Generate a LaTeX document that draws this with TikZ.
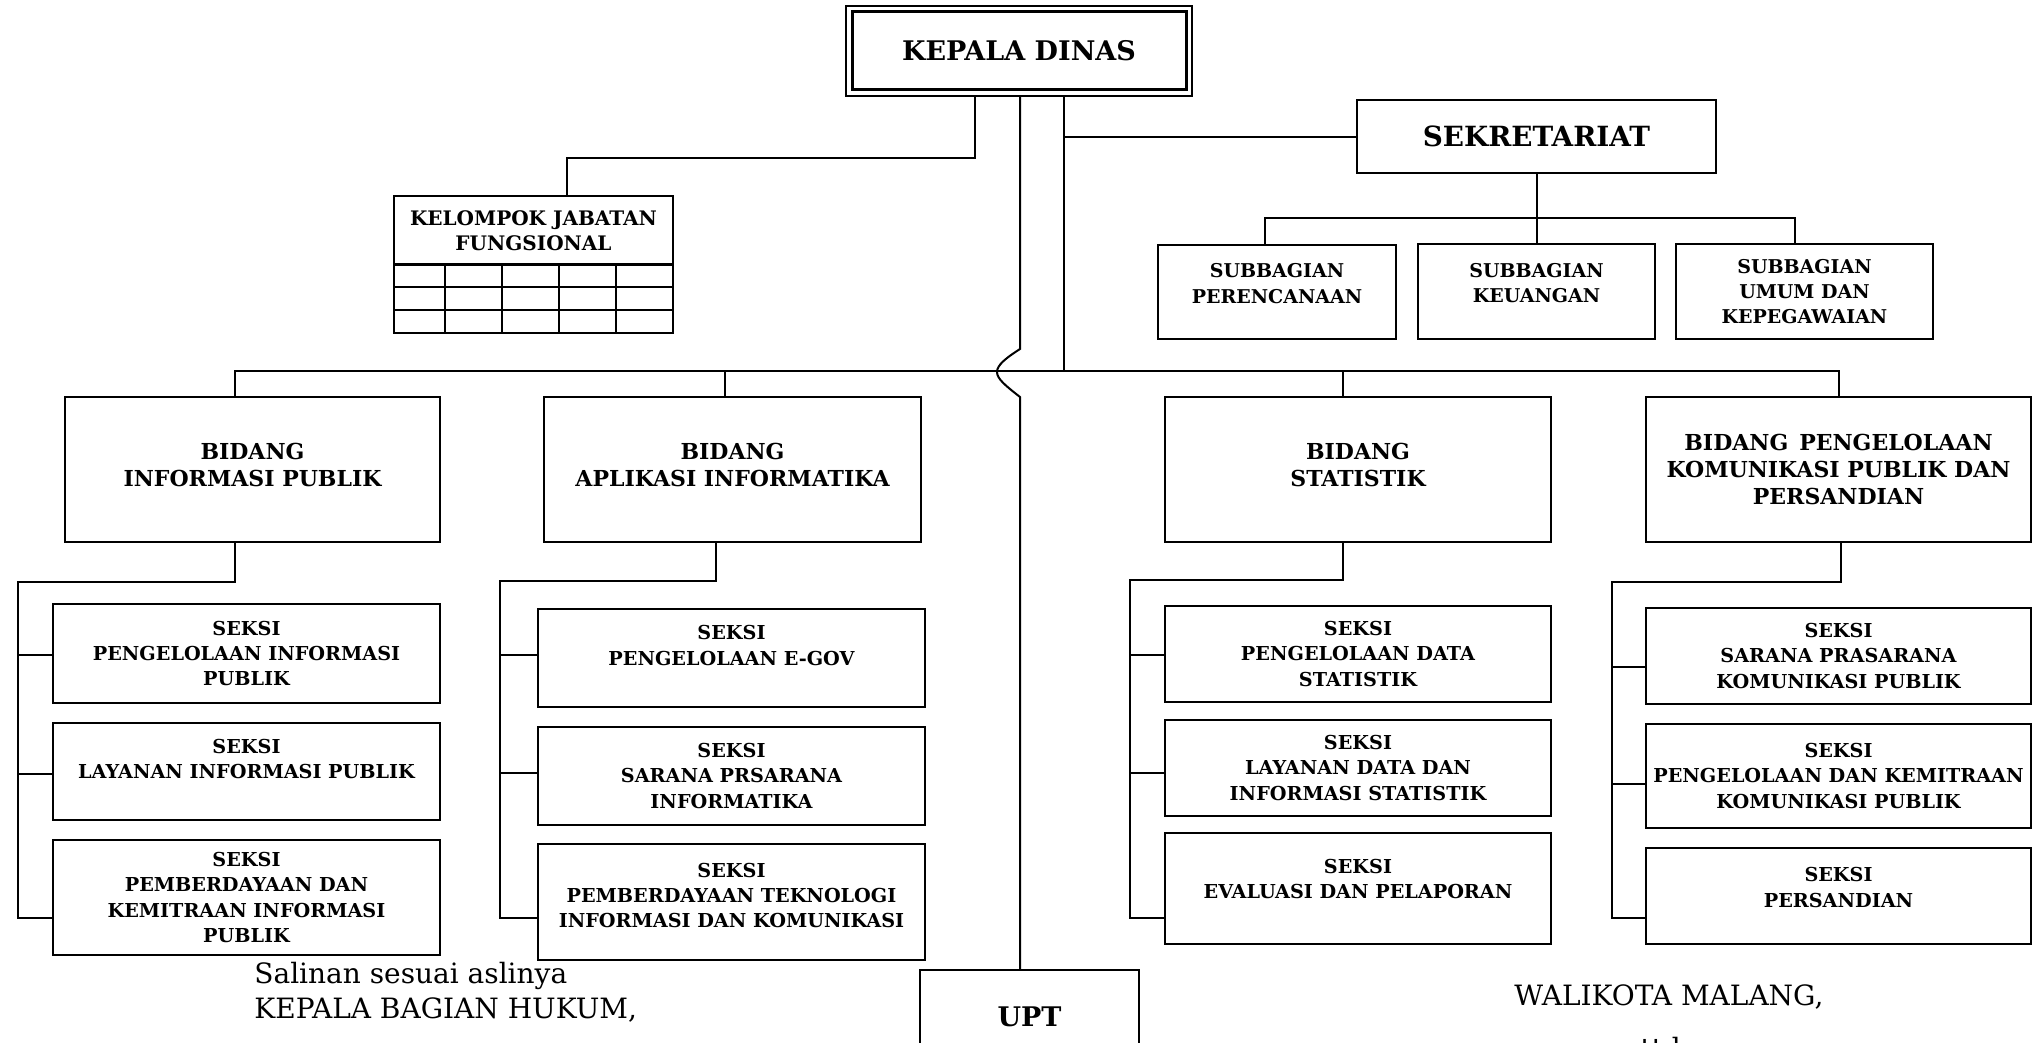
\documentclass[tikz,border=0pt]{standalone}
\usepackage{fontspec}
\setmainfont{DejaVu Serif}
\begin{document}
\begin{tikzpicture}[x=0.5pt,y=-0.5pt,
  conn/.style={line width=1pt},
  box/.style={draw, line width=1.1pt, align=center, inner sep=0pt, font=\bfseries\fontsize{9.6}{12.6}\selectfont},
  sub/.style={box, font=\bfseries\fontsize{9.5}{12.6}\selectfont},
  bid/.style={box, font=\bfseries\fontsize{11}{13.4}\selectfont},
  plain/.style={inner sep=0pt, font=\fontsize{14}{16}\selectfont}]
\useasboundingbox (0,0) rectangle (2034,1043);
% top
\node[draw, line width=1pt, minimum width=173pt, minimum height=45pt] (KDo) at (1019,51) {};
\node[box, line width=1.5pt, minimum width=167pt, minimum height=39pt, font=\bfseries\fontsize{13.5}{16}\selectfont] (KD) at (1019,51) {KEPALA DINAS};
\node[box, minimum width=139.5pt, minimum height=34.5pt, font=\bfseries\fontsize{10}{12.6}\selectfont] (KJF) at (533.5,230.5) {KELOMPOK JABATAN\\FUNGSIONAL};
\draw[line width=1pt] (394,264) rectangle (673,333);
\foreach \yy in {287,310} \draw[line width=1pt] (394,\yy) -- (673,\yy);
\foreach \xx in {445,502,559,616} \draw[line width=1pt] (\xx,264) -- (\xx,333);
\node[box, minimum width=179.5pt, minimum height=36.5pt, font=\bfseries\fontsize{13.9}{16}\selectfont] (SEK) at (1536.5,136.5) {SEKRETARIAT};
\node[sub, minimum width=119pt, minimum height=47pt] (SB1) at (1277,292) {SUBBAGIAN\\PERENCANAAN\\[-4pt]~};
\node[sub, minimum width=118.5pt, minimum height=47.5pt] (SB2) at (1536.5,291.5) {SUBBAGIAN\\KEUANGAN\\[-4pt]~};
\node[sub, minimum width=128.5pt, minimum height=47.5pt] (SB3) at (1804.5,291.5) {SUBBAGIAN\\UMUM DAN\\KEPEGAWAIAN};
% bidang
\node[bid, minimum width=187.5pt, minimum height=72.5pt] (B1) at (252.5,469.5) {BIDANG\\INFORMASI PUBLIK\\[-9pt]~};
\node[bid, minimum width=188.5pt, minimum height=72.5pt] (B2) at (732.5,469.5) {BIDANG\\APLIKASI INFORMATIKA\\[-9pt]~};
\node[bid, minimum width=193pt, minimum height=72.5pt] (B3) at (1358,469.5) {BIDANG\\STATISTIK\\[-9pt]~};
\node[bid, minimum width=192.5pt, minimum height=72.5pt] (B4) at (1838.5,469.5) {BIDANG\enspace PENGELOLAAN\\KOMUNIKASI PUBLIK DAN\\PERSANDIAN};
% seksi col1
\node[box, minimum width=193.5pt, minimum height=49.5pt] (K11) at (246.5,653.5) {SEKSI\\PENGELOLAAN INFORMASI\\PUBLIK};
\node[box, minimum width=193.5pt, minimum height=48.5pt] (K12) at (246.5,771.5) {SEKSI\\LAYANAN INFORMASI PUBLIK\\~};
\node[box, minimum width=193.5pt, minimum height=57.5pt] (K13) at (246.5,897.5) {SEKSI\\PEMBERDAYAAN DAN\\KEMITRAAN INFORMASI\\PUBLIK};
% col2
\node[box, minimum width=193.5pt, minimum height=49pt] (K21) at (731.5,658) {SEKSI\\PENGELOLAAN E-GOV\\~};
\node[box, minimum width=193.5pt, minimum height=49pt] (K22) at (731.5,776) {SEKSI\\SARANA PRSARANA\\INFORMATIKA};
\node[box, minimum width=193.5pt, minimum height=58pt] (K23) at (731.5,902) {SEKSI\\PEMBERDAYAAN TEKNOLOGI\\INFORMASI DAN KOMUNIKASI\\[-6pt]~};
% col3
\node[box, minimum width=193pt, minimum height=48pt] (K31) at (1358,654) {SEKSI\\PENGELOLAAN DATA\\STATISTIK};
\node[box, minimum width=193pt, minimum height=48pt] (K32) at (1358,768) {SEKSI\\LAYANAN DATA DAN\\INFORMASI STATISTIK};
\node[box, minimum width=193pt, minimum height=55.5pt] (K33) at (1358,888.5) {SEKSI\\EVALUASI DAN PELAPORAN\\[-3pt]~};
% col4
\node[box, minimum width=192.5pt, minimum height=48pt] (K41) at (1838.5,656) {SEKSI\\SARANA PRASARANA\\KOMUNIKASI PUBLIK};
\node[box, minimum width=192.5pt, minimum height=52pt] (K42) at (1838.5,776) {SEKSI\\PENGELOLAAN DAN KEMITRAAN\\KOMUNIKASI PUBLIK};
\node[box, minimum width=192.5pt, minimum height=48pt] (K43) at (1838.5,896) {SEKSI\\PERSANDIAN\\[-4pt]~};
% UPT
\node[box, minimum width=109.5pt, minimum height=47pt, font=\bfseries\fontsize{13.5}{16}\selectfont] (UPT) at (1029.5,1017) {UPT};
% coordinates
\coordinate (xa) at (975,0);
\coordinate (xb) at (1020,0);
\coordinate (xc) at (1064,0);
\coordinate (xk) at (567,0);
\coordinate (kj) at (567,158);
\coordinate (sj) at (1064,137);
\coordinate (bus) at (0,371);
\coordinate (d1) at (235,0);
\coordinate (d2) at (725,0);
\coordinate (d3) at (1343,0);
\coordinate (d4) at (1838.5,0);
\coordinate (sb) at (0,218);
\coordinate (s1) at (1265,0);
\coordinate (s3) at (1795,0);
% top connectors
\draw[conn] (KDo.south -| xa) |- (kj) -- (KJF.north -| xk);
\draw[conn] (KDo.south -| xb) -- (1020,349) .. controls (1006,358) and (997,365) .. (997,372) .. controls (997,379) and (1006,386) .. (1020,397) -- (UPT.north -| xb);
\draw[conn] (KDo.south -| xc) -- (xc |- bus);
\draw[conn] (sj) -- (sj -| SEK.west);
\draw[conn] (SEK.south) -- (SB2.north);
\draw[conn] (SB1.north -| s1) -- (s1 |- sb) -- (s3 |- sb) -- (SB3.north -| s3);
% bus
\draw[conn] (B1.north -| d1) -- (d1 |- bus) -- (d4 |- bus) -- (B4.north -| d4);
\draw[conn] (d2 |- bus) -- (B2.north -| d2);
\draw[conn] (d3 |- bus) -- (B3.north -| d3);
% lower columns
\coordinate (e1) at (235,0);   \coordinate (v1a) at (18,582);  \coordinate (v1b) at (18,918);
\coordinate (b11) at (18,655); \coordinate (b12) at (18,774);
\draw[conn] (B1.south -| e1) |- (v1a) -- (v1b) -- (v1b -| K13.west);
\draw[conn] (b11) -- (b11 -| K11.west);
\draw[conn] (b12) -- (b12 -| K12.west);
\coordinate (e2) at (716,0);   \coordinate (v2a) at (500,581); \coordinate (v2b) at (500,918);
\coordinate (b21) at (500,655); \coordinate (b22) at (500,773);
\draw[conn] (B2.south -| e2) |- (v2a) -- (v2b) -- (v2b -| K23.west);
\draw[conn] (b21) -- (b21 -| K21.west);
\draw[conn] (b22) -- (b22 -| K22.west);
\coordinate (e3) at (1343,0);  \coordinate (v3a) at (1130,580); \coordinate (v3b) at (1130,918);
\coordinate (b31) at (1130,655); \coordinate (b32) at (1130,773);
\draw[conn] (B3.south -| e3) |- (v3a) -- (v3b) -- (v3b -| K33.west);
\draw[conn] (b31) -- (b31 -| K31.west);
\draw[conn] (b32) -- (b32 -| K32.west);
\coordinate (e4) at (1841,0);  \coordinate (v4a) at (1612,582); \coordinate (v4b) at (1612,918);
\coordinate (b41) at (1612,667); \coordinate (b42) at (1612,784);
\draw[conn] (B4.south -| e4) |- (v4a) -- (v4b) -- (v4b -| K43.west);
\draw[conn] (b41) -- (b41 -| K41.west);
\draw[conn] (b42) -- (b42 -| K42.west);
% bottom texts
\node[plain, anchor=base west] (t1) at (254,983) {Salinan sesuai aslinya};
\node[plain, anchor=base west] (t2) at (254,1018) {KEPALA BAGIAN HUKUM,};
\node[plain, anchor=base west] (t3) at (1514,1005) {WALIKOTA MALANG,};
\node[plain, anchor=base west] (t4) at (1640,1058) {ttd.};
\end{tikzpicture}
\end{document}
